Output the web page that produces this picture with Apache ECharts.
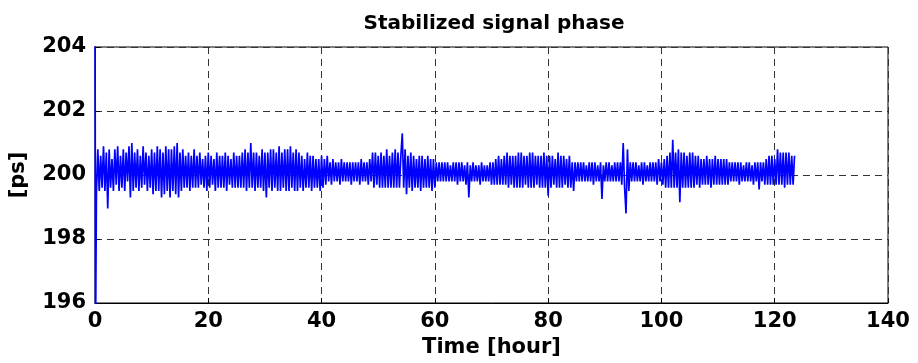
<!DOCTYPE html>
<html>
<head>
<meta charset="utf-8">
<script src="https://cdn.jsdelivr.net/npm/echarts@6/dist/echarts.min.js"></script>
<style>
  html, body { margin: 0; padding: 0; background: #fff; }
  #chart { width: 918px; height: 363px; }
</style>
</head>
<body>
<div id="chart"></div>
<script>
// startup transient (off scale both ways)
const startTimes = [0, 0.1];
const startValues = [206, 195];

// phase samples every 0.25 h starting at 0.25 h, one row per hour
const sampleStep = 0.25;
const phase = [
  199.4, 200.8, 199.5, 200.6,
  199.6, 200.9, 199.5, 200.7,
  198.95, 200.8, 199.6, 200.5,
  199.5, 200.8, 199.7, 200.9,
  199.5, 200.6, 199.6, 200.8,
  199.5, 200.7, 199.8, 200.9,
  199.3, 201.0, 199.5, 200.7,
  199.6, 200.8, 199.5, 200.6,
  199.6, 200.9, 199.7, 200.7,
  199.5, 200.6, 199.6, 200.8,
  199.4, 200.7, 199.5, 200.9,
  199.5, 200.8, 199.3, 200.7,
  199.4, 200.9, 199.5, 200.8,
  199.3, 200.8, 199.5, 200.9,
  199.4, 201.0, 199.3, 200.7,
  199.5, 200.8, 199.6, 200.6,
  199.6, 200.7, 199.5, 200.6,
  199.6, 200.8, 199.6, 200.6,
  199.6, 200.7, 199.7, 200.5,
  199.6, 200.6, 199.5, 200.7,
  199.6, 200.6, 199.7, 200.5,
  199.5, 200.7, 199.6, 200.6,
  199.6, 200.6, 199.6, 200.7,
  199.5, 200.6, 199.7, 200.5,
  199.6, 200.7, 199.6, 200.6,
  199.6, 200.6, 199.6, 200.7,
  199.6, 200.8, 199.5, 200.7,
  199.6, 201.0, 199.6, 200.7,
  199.5, 200.7, 199.6, 200.6,
  199.6, 200.8, 199.5, 200.7,
  199.3, 200.7, 199.6, 200.8,
  199.5, 200.8, 199.6, 200.7,
  199.5, 200.9, 199.5, 200.7,
  199.6, 200.8, 199.5, 200.8,
  199.5, 200.9, 199.6, 200.7,
  199.5, 200.8, 199.5, 200.7,
  199.6, 200.6, 199.5, 200.5,
  199.6, 200.7, 199.6, 200.6,
  199.5, 200.6, 199.6, 200.5,
  199.6, 200.5, 199.5, 200.6,
  199.6, 200.5, 199.7, 200.6,
  199.8, 200.4, 199.7, 200.5,
  199.8, 200.4, 199.8, 200.4,
  199.7, 200.5, 199.8, 200.4,
  199.8, 200.4, 199.8, 200.4,
  199.7, 200.4, 199.8, 200.4,
  199.8, 200.4, 199.7, 200.5,
  199.8, 200.4, 199.8, 200.4,
  199.7, 200.5, 199.8, 200.7,
  199.6, 200.7, 199.7, 200.6,
  199.6, 200.7, 199.6, 200.6,
  199.6, 200.8, 199.6, 200.6,
  199.6, 200.7, 199.6, 200.8,
  199.6, 200.7, 199.6, 200.6,
  201.3, 199.6, 200.8, 199.4,
  200.6, 199.6, 200.7, 199.5,
  200.6, 199.6, 200.5, 199.6,
  200.6, 199.5, 200.6, 199.6,
  200.5, 199.6, 200.6, 199.6,
  200.5, 199.5, 200.5, 199.6,
  200.4, 199.8, 200.4, 199.8,
  200.4, 199.8, 200.4, 199.8,
  200.4, 199.8, 200.3, 199.8,
  200.4, 199.8, 200.4, 199.7,
  200.4, 199.8, 200.4, 199.8,
  200.3, 199.7, 200.4, 199.3,
  200.3, 199.8, 200.4, 199.8,
  200.3, 199.8, 200.3, 199.7,
  200.4, 199.8, 200.3, 199.8,
  200.3, 199.8, 200.4, 199.7,
  200.4, 199.7, 200.5, 199.7,
  200.6, 199.7, 200.5, 199.7,
  200.6, 199.7, 200.7, 199.6,
  200.6, 199.7, 200.6, 199.6,
  200.6, 199.6, 200.7, 199.6,
  200.7, 199.6, 200.6, 199.7,
  200.6, 199.6, 200.7, 199.6,
  200.7, 199.6, 200.6, 199.7,
  200.6, 199.6, 200.6, 199.6,
  200.7, 199.6, 200.6, 199.35,
  200.6, 199.6, 200.6, 199.7,
  200.5, 199.6, 200.7, 199.6,
  200.6, 199.6, 200.6, 199.7,
  200.5, 199.6, 200.6, 199.6,
  200.4, 199.5, 200.4, 199.8,
  200.4, 199.8, 200.4, 199.8,
  200.4, 199.8, 200.3, 199.8,
  200.4, 199.8, 200.4, 199.7,
  200.4, 199.8, 200.3, 199.8,
  200.4, 199.25, 200.3, 199.8,
  200.4, 199.8, 200.4, 199.8,
  200.3, 199.8, 200.4, 199.8,
  200.4, 199.8, 200.4, 199.7,
  201.0, 199.6, 198.8, 200.8,
  199.5, 200.4, 199.8, 200.4,
  199.8, 200.4, 199.8, 200.3,
  199.8, 200.4, 199.7, 200.4,
  199.8, 200.3, 199.8, 200.4,
  199.8, 200.4, 199.8, 200.4,
  199.7, 200.5, 199.8, 200.4,
  199.7, 200.5, 199.6, 200.6,
  199.6, 200.7, 199.6, 201.1,
  199.6, 200.7, 199.6, 200.8,
  199.15, 200.7, 199.6, 200.7,
  199.6, 200.6, 199.6, 200.7,
  199.6, 200.7, 199.6, 200.6,
  199.7, 200.6, 199.6, 200.5,
  199.7, 200.5, 199.7, 200.6,
  199.7, 200.5, 199.6, 200.5,
  199.7, 200.6, 199.7, 200.5,
  199.7, 200.5, 199.7, 200.5,
  199.7, 200.5, 199.7, 200.4,
  199.8, 200.4, 199.8, 200.4,
  199.8, 200.4, 199.7, 200.4,
  199.8, 200.3, 199.8, 200.4,
  199.8, 200.4, 199.8, 200.3,
  199.7, 200.4, 199.8, 200.4,
  199.55, 200.4, 199.8, 200.4,
  199.7, 200.5, 199.7, 200.6,
  199.7, 200.6, 199.7, 200.5,
  199.7, 200.8, 199.7, 200.7,
  199.7, 200.7, 199.6, 200.7,
  199.7, 200.7, 199.7, 200.6,
  199.7, 200.6
];

const xTicks = { min: 0, max: 140, interval: 20 };
const yTicks = { min: 196, max: 204, interval: 2 };

const seriesData = startTimes.map((t, i) => [t, startValues[i]])
  .concat(phase.map((v, i) => [sampleStep * (i + 1), v]));

const chart = echarts.init(document.getElementById("chart"));
const font = "'DejaVu Sans', sans-serif";
const gridLine = { show: true, lineStyle: { color: "#333", type: [7, 5], width: 1 } };

chart.setOption({
  animation: false,
  backgroundColor: "#fff",
  title: {
    text: "Stabilized signal phase",
    left: 489,
    textAlign: "center",
    top: 9,
    textStyle: { fontFamily: font, fontSize: 20, fontWeight: "bold", color: "#000" },
  },
  grid: {
    left: 94, right: 30, top: 47, bottom: 58,
    show: true, borderColor: "#000", borderWidth: 1,
  },
  xAxis: {
    type: "value",
    ...xTicks,
    name: "Time [hour]",
    nameLocation: "middle",
    nameGap: 34,
    nameTextStyle: { fontFamily: font, fontSize: 21, fontWeight: "bold", color: "#000" },
    axisLine: { show: true, onZero: false, lineStyle: { color: "#000", width: 1 } },
    axisTick: { show: true, inside: true, length: 5, lineStyle: { color: "#000" } },
    axisLabel: { fontFamily: font, fontSize: 21, fontWeight: "bold", color: "#000", margin: 8 },
    splitLine: gridLine,
  },
  yAxis: {
    type: "value",
    ...yTicks,
    name: "[ps]",
    nameLocation: "middle",
    nameGap: 66,
    nameTextStyle: { fontFamily: font, fontSize: 21, fontWeight: "bold", color: "#000" },
    axisLine: { show: true, lineStyle: { color: "#000", width: 1 } },
    axisTick: { show: true, inside: true, length: 5, lineStyle: { color: "#000" } },
    axisLabel: { fontFamily: font, fontSize: 21, fontWeight: "bold", color: "#000", margin: 9 },
    splitLine: gridLine,
  },
  series: [
    {
      type: "line",
      data: seriesData,
      showSymbol: false,
      symbol: "none",
      clip: true,
      sampling: null,
      lineStyle: { color: "#0000ff", width: 1.7 },
    },
  ],
});
</script>
</body>
</html>
